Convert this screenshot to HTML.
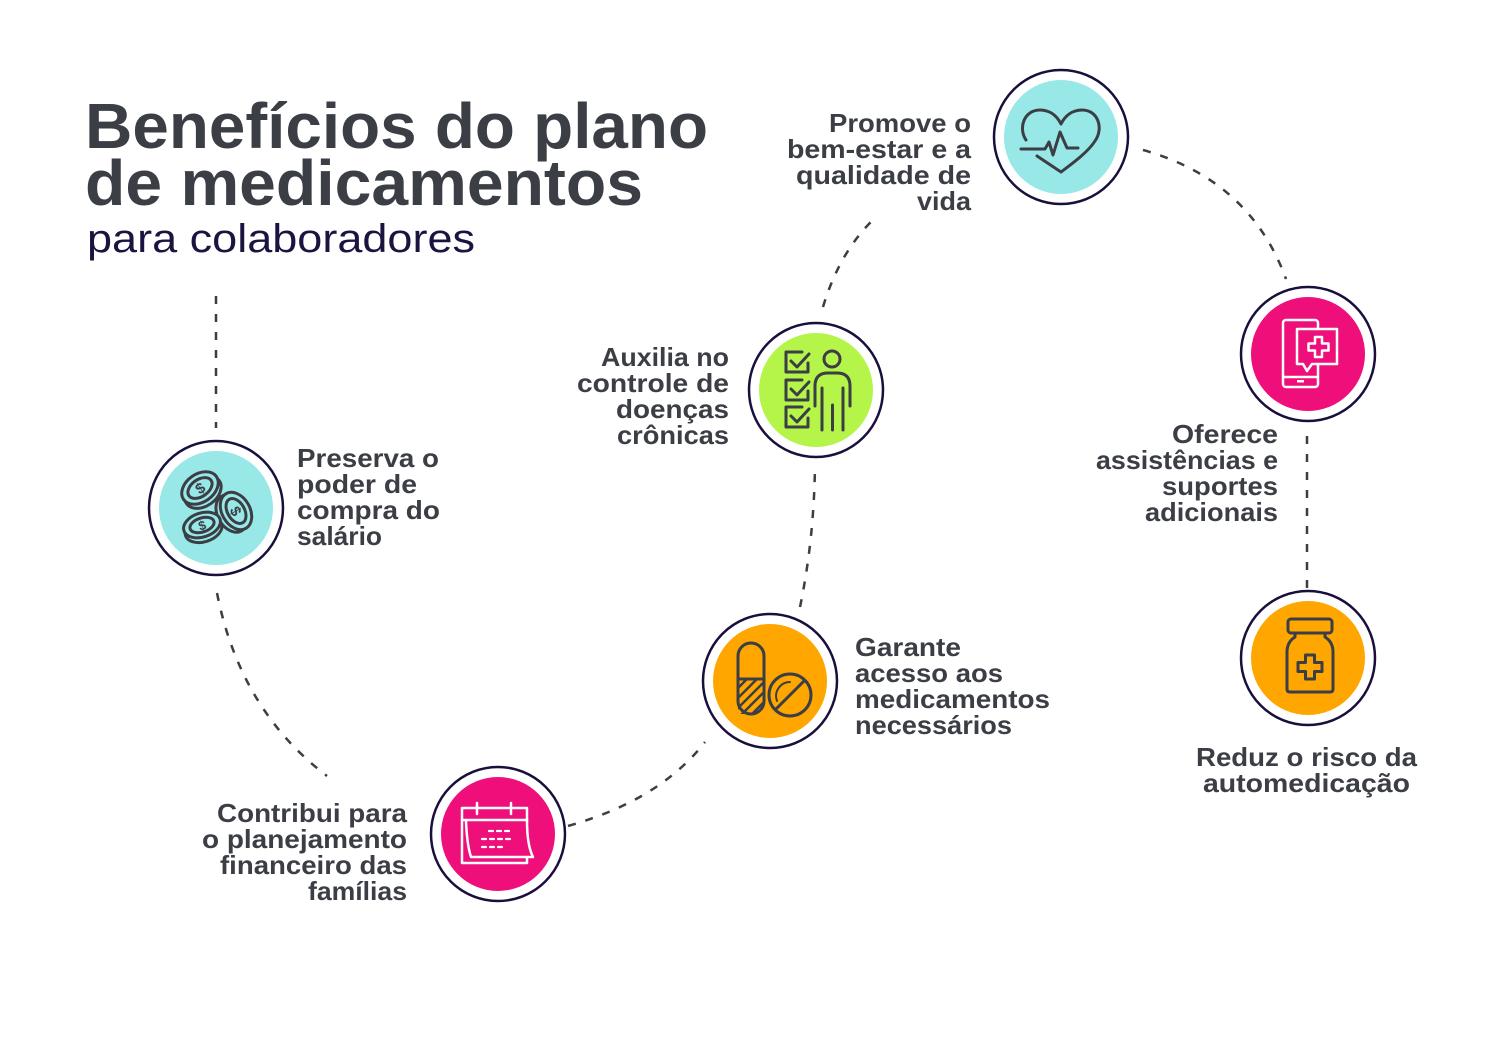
<!DOCTYPE html>
<html><head><meta charset="utf-8">
<style>html,body{margin:0;padding:0;background:#fff;}svg{display:block}</style>
</head><body>
<svg width="1506" height="1043" viewBox="0 0 1506 1043" xmlns="http://www.w3.org/2000/svg">
<defs>
  <clipPath id="capLow"><rect x="738" y="680" width="26" height="34" rx="0"/></clipPath>
</defs>
<rect width="1506" height="1043" fill="#fff"/>

<!-- Title -->
<g font-family="'Liberation Sans', Arial, sans-serif">
  <text x="85" y="148" font-size="64" font-weight="bold" fill="#3b3e45" textLength="623" lengthAdjust="spacingAndGlyphs">Benefícios do plano</text>
  <text x="85" y="205" font-size="64" font-weight="bold" fill="#3b3e45" textLength="558" lengthAdjust="spacingAndGlyphs">de medicamentos</text>
  <text x="87" y="252" font-size="40" fill="#1c1340" textLength="388" lengthAdjust="spacingAndGlyphs">para colaboradores</text>
</g>

<!-- Dashed connectors -->
<g fill="none" stroke="#3b3e45" stroke-width="2.5" stroke-dasharray="8 10">
  <path d="M216,296 V428"/>
  <path d="M217,593 Q240,710 327,776"/>
  <path d="M568,826 Q660,800 705,742"/>
  <path d="M800,607 Q814,540 815,465"/>
  <path d="M823,307 Q840,250 877,216"/>
  <path d="M1143,150 Q1250,180 1286,279"/>
  <path d="M1307,436 V588"/>
</g>

<!-- Circles -->
<g stroke="#1a0f3c" stroke-width="2.5" fill="#fff">
  <circle cx="216" cy="508" r="67"/>
  <circle cx="816" cy="390" r="67"/>
  <circle cx="1061" cy="137" r="67"/>
  <circle cx="1308" cy="354" r="67"/>
  <circle cx="1308" cy="658" r="67"/>
  <circle cx="770" cy="681" r="67"/>
  <circle cx="498" cy="834" r="67"/>
</g>
<circle cx="216" cy="508" r="57" fill="#97e8e6"/>
<circle cx="816" cy="390" r="57" fill="#b5f549"/>
<circle cx="1061" cy="137" r="57" fill="#97e8e6"/>
<circle cx="1308" cy="354" r="57" fill="#ee0f7b"/>
<circle cx="1308" cy="658" r="57" fill="#ffa600"/>
<circle cx="770" cy="681" r="57" fill="#ffa600"/>
<circle cx="498" cy="834" r="57" fill="#ee0f7b"/>

<!-- Coins icon -->
<g stroke="#3b3e45" stroke-width="3" fill="#97e8e6" font-family="'Liberation Sans', Arial, sans-serif">
  <g transform="translate(200,488) rotate(-35)">
    <ellipse cx="0" cy="5" rx="20" ry="14"/>
    <ellipse cx="0" cy="0" rx="20" ry="14"/>
    <ellipse cx="0" cy="0" rx="13.5" ry="8.5" fill="none"/>
    <text x="0" y="5.5" font-size="15" font-weight="bold" text-anchor="middle" fill="#3b3e45" stroke="none">$</text>
  </g>
  <g transform="translate(236,511) rotate(60)">
    <ellipse cx="0" cy="5" rx="20" ry="14"/>
    <ellipse cx="0" cy="0" rx="20" ry="14"/>
    <ellipse cx="0" cy="0" rx="13.5" ry="8.5" fill="none"/>
    <text x="0" y="5.5" font-size="15" font-weight="bold" text-anchor="middle" fill="#3b3e45" stroke="none">$</text>
  </g>
  <g transform="translate(202,525) rotate(-18)">
    <ellipse cx="0" cy="5" rx="19" ry="12"/>
    <ellipse cx="0" cy="0" rx="19" ry="12"/>
    <ellipse cx="0" cy="0" rx="12.5" ry="7" fill="none"/>
    <text x="0" y="5" font-size="13" font-weight="bold" text-anchor="middle" fill="#3b3e45" stroke="none">$</text>
  </g>
</g>

<!-- Checklist icon -->
<g stroke="#3b3e45" stroke-width="3" fill="none" stroke-linecap="round" stroke-linejoin="round">
  <path d="M802,352 H786 V372 H808 V363"/>
  <path d="M791,361 L797,367 L809,354"/>
  <path d="M802,380 H786 V400 H808 V391"/>
  <path d="M791,389 L797,395 L809,382"/>
  <path d="M802,407 H786 V427 H808 V418"/>
  <path d="M791,416 L797,422 L809,409"/>
  <circle cx="832" cy="359" r="8"/>
  <path d="M815,406 V386 Q815,373 828,373 H837 Q850,373 850,386 V406"/>
  <path d="M822,388 V430"/>
  <path d="M843,388 V430"/>
  <path d="M832.5,405 V430"/>
</g>

<!-- Heart icon -->
<g stroke="#3b3e45" stroke-width="3" fill="none" stroke-linecap="round" stroke-linejoin="round">
  <path d="M1026,140 C1018,128 1024,110 1040,110 C1050,110 1057,116 1061,124 C1065,116 1072,110 1082,110 C1098,110 1104,128 1095,141 C1088,152 1073,163 1061,172 L1037,156"/>
  <path d="M1021,149 L1045,149 L1049,142 L1053,155 L1060,132 L1067,148 L1078,148"/>
</g>

<!-- Phone icon -->
<g stroke="#fff" stroke-width="2.5" fill="none" stroke-linejoin="round">
  <rect x="1283" y="320" width="35" height="67" rx="3"/>
  <path d="M1283,377 H1318"/>
  <rect x="1297" y="380" width="7" height="2.5" fill="#fff" stroke="none"/>
  <path d="M1297,329 H1337 V364 H1312 L1307,371 L1303,364 H1297 Z" fill="#ee0f7b"/>
  <path d="M1315,337 h7 v6.5 h6.5 v7 h-6.5 v6.5 h-7 v-6.5 h-6.5 v-7 h6.5 z"/>
</g>

<!-- Bottle icon -->
<g stroke="#3b3e45" stroke-width="3" fill="none" stroke-linejoin="round">
  <rect x="1288" y="619" width="44" height="14" rx="3"/>
  <path d="M1295,633 V637 Q1287,642 1287,652 V689 Q1287,692 1290,692 H1330 Q1333,692 1333,689 V652 Q1333,642 1325,637 V633"/>
  <path d="M1305.5,655 h9 v7.5 h7.5 v9 h-7.5 v7.5 h-9 v-7.5 h-7.5 v-9 h7.5 z"/>
</g>

<!-- Pills icon -->
<g stroke="#3b3e45" stroke-width="3" fill="none" stroke-linecap="round">
  <g clip-path="url(#capLow)" stroke-width="2.5">
    <path d="M730,696 L752,674"/>
    <path d="M730,706 L760,676"/>
    <path d="M732,714 L768,678"/>
    <path d="M742,714 L770,686"/>
    <path d="M752,714 L772,694"/>
  </g>
  <rect x="738" y="643" width="26" height="71" rx="13"/>
  <path d="M738,679 H764"/>
  <circle cx="790" cy="695" r="21"/>
  <path d="M804,681 L776,709"/>
  <path d="M777,701 A14,14 0 0 1 790,682" stroke-width="2"/>
</g>

<!-- Calendar icon -->
<g stroke="#fff" stroke-width="2.5" fill="none" stroke-linejoin="round" stroke-linecap="round">
  <path d="M527,821 V808 H462 V863 H527 V858"/>
  <path d="M462,820 H527"/>
  <path d="M466,821 Q467,845 471,857 H533 Q527,845 527,821"/>
  <path d="M477,803 V814"/>
  <path d="M511,803 V814"/>
  <g stroke-width="2.2">
    <path d="M489,831 h4 M497,831 h4 M505,831 h4"/>
    <path d="M482,839 h4 M490,839 h4 M498,839 h4 M506,839 h4"/>
    <path d="M482,847 h4 M490,847 h4 M498,847 h4"/>
  </g>
</g>

<!-- Labels -->
<g font-family="'Liberation Sans', Arial, sans-serif" font-size="26" font-weight="bold" fill="#3b3e45">
  <text x="829" y="132" textLength="142" lengthAdjust="spacingAndGlyphs">Promove o</text>
  <text x="787" y="158" textLength="184" lengthAdjust="spacingAndGlyphs">bem-estar e a</text>
  <text x="796" y="184" textLength="175" lengthAdjust="spacingAndGlyphs">qualidade de</text>
  <text x="917" y="210" textLength="54" lengthAdjust="spacingAndGlyphs">vida</text>

  <text x="601" y="366" textLength="128" lengthAdjust="spacingAndGlyphs">Auxilia no</text>
  <text x="577" y="392" textLength="152" lengthAdjust="spacingAndGlyphs">controle de</text>
  <text x="616" y="418" textLength="113" lengthAdjust="spacingAndGlyphs">doenças</text>
  <text x="617" y="444" textLength="112" lengthAdjust="spacingAndGlyphs">crônicas</text>

  <text x="297" y="467" textLength="142" lengthAdjust="spacingAndGlyphs">Preserva o</text>
  <text x="297" y="493" textLength="120" lengthAdjust="spacingAndGlyphs">poder de</text>
  <text x="297" y="519" textLength="143" lengthAdjust="spacingAndGlyphs">compra do</text>
  <text x="297" y="545" textLength="85" lengthAdjust="spacingAndGlyphs">salário</text>

  <text x="1172" y="443" textLength="106" lengthAdjust="spacingAndGlyphs">Oferece</text>
  <text x="1096" y="469" textLength="182" lengthAdjust="spacingAndGlyphs">assistências e</text>
  <text x="1162" y="495" textLength="116" lengthAdjust="spacingAndGlyphs">suportes</text>
  <text x="1145" y="521" textLength="133" lengthAdjust="spacingAndGlyphs">adicionais</text>

  <text x="855" y="656" textLength="106" lengthAdjust="spacingAndGlyphs">Garante</text>
  <text x="855" y="682" textLength="148" lengthAdjust="spacingAndGlyphs">acesso aos</text>
  <text x="855" y="708" textLength="195" lengthAdjust="spacingAndGlyphs">medicamentos</text>
  <text x="855" y="734" textLength="157" lengthAdjust="spacingAndGlyphs">necessários</text>

  <text x="1196" y="766" textLength="221" lengthAdjust="spacingAndGlyphs">Reduz o risco da</text>
  <text x="1203" y="792" textLength="207" lengthAdjust="spacingAndGlyphs">automedicação</text>

  <text x="217" y="822" textLength="190" lengthAdjust="spacingAndGlyphs">Contribui para</text>
  <text x="202" y="848" textLength="205" lengthAdjust="spacingAndGlyphs">o planejamento</text>
  <text x="220" y="874" textLength="187" lengthAdjust="spacingAndGlyphs">financeiro das</text>
  <text x="308" y="900" textLength="99" lengthAdjust="spacingAndGlyphs">famílias</text>
</g>
</svg>
</body></html>
